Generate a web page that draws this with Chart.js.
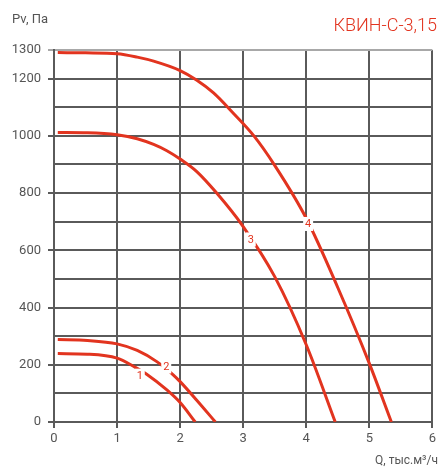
<!DOCTYPE html>
<html><head><meta charset="utf-8">
<script src="https://cdn.jsdelivr.net/npm/chart.js@4"></script>
<style>html,body{margin:0;padding:0;background:#fff}#wrap{width:439px;height:468px;position:relative}</style>
</head><body><div id="wrap"><canvas id="c" width="439" height="468"></canvas></div>
<script>
const chartTitle = 'КВИН-С-3,15';
const yTitle = 'Pv, Па';
const xTitle = 'Q, тыс.м³/ч';
const yLabelTicks = [0, 200, 400, 600, 800, 1000, 1200, 1300];
const curve1Q = [0.06, 0.53, 1.0, 1.29, 1.47, 1.79, 2.0, 2.24];
const curve1P = [239, 237, 223, 191, 167, 112, 68, 0];
const curve2Q = [0.06, 0.53, 1.0, 1.32, 1.63, 1.89, 2.0, 2.26, 2.56];
const curve2P = [288, 285, 273, 250, 211, 165, 141, 77, 0];
const curve3Q = [0.06, 0.53, 1.0, 1.32, 1.58, 1.79, 2.0, 2.26, 2.58, 3.0, 3.5, 4.0, 4.46];
const curve3P = [1012, 1011, 1004, 990, 970, 948, 919, 876, 800, 683, 508, 270, 0];
const curve4Q = [0.06, 0.5, 1.0, 1.32, 1.58, 2.0, 2.26, 2.53, 2.84, 3.17, 3.5, 4.0, 4.5, 5.0, 5.35];
const curve4P = [1291, 1290, 1287, 1275, 1261, 1228, 1195, 1150, 1080, 1000, 897, 712, 470, 205, 0];
const curveLabels = ['1', '2', '3', '4'];
const labelQ = [1.36, 1.78, 3.12, 4.03];
const labelP = [162, 194, 638, 692];

const RED = '#e2341f';
const GRID = '#5a5a5a';
const toPts = (q, p) => q.map((v, i) => ({x: v, y: p[i]}));
const ds = (q, p) => ({data: toPts(q, p), borderColor: RED, borderWidth: 3, pointRadius: 0,
  fill: false, cubicInterpolationMode: 'monotone', borderCapStyle: 'butt'});

const decor = {
  id: 'decor',
  afterDatasetsDraw(chart) {
    const ctx = chart.ctx, xs = chart.scales.x, ys = chart.scales.y;
    ctx.save();
    ctx.font = '11px Roboto';
    ctx.textAlign = 'center'; ctx.textBaseline = 'middle';
    curveLabels.forEach((t, i) => {
      const px = xs.getPixelForValue(labelQ[i]), py = ys.getPixelForValue(labelP[i]);
      ctx.fillStyle = '#fff';
      ctx.fillRect(px - 5, py - 7, 10, 14);
      ctx.fillStyle = RED;
      ctx.fillText(t, px, py + 0.5);
    });
    ctx.restore();
  },
  afterDraw(chart) {
    const ctx = chart.ctx;
    ctx.save();
    ctx.fillStyle = '#555';
    ctx.font = '13px Roboto';
    ctx.textAlign = 'left'; ctx.textBaseline = 'middle';
    ctx.fillText(yTitle, 12, 20);
    ctx.font = '12px Roboto';
    ctx.textAlign = 'right';
    ctx.fillText(xTitle, 438, 461);
    ctx.fillStyle = RED;
    ctx.font = '300 18px Roboto';
    ctx.fillText(chartTitle, 437, 26);
    ctx.restore();
  }
};

new Chart(document.getElementById('c'), {
  type: 'line',
  data: {datasets: [ds(curve1Q, curve1P), ds(curve2Q, curve2P), ds(curve3Q, curve3P), ds(curve4Q, curve4P)]},
  options: {
    responsive: false, animation: false, devicePixelRatio: 1,
    layout: {padding: {top: 50, right: 5, left: 0, bottom: 0}},
    plugins: {legend: {display: false}, tooltip: {enabled: false}},
    scales: {
      x: {type: 'linear', min: 0, max: 6,
        ticks: {stepSize: 1, color: '#555', font: {family: 'Roboto', size: 13}, padding: 3, maxRotation: 0},
        grid: {color: GRID, lineWidth: 2, tickLength: 6, tickColor: GRID},
        border: {color: GRID, width: 2},
        afterFit(s) { s.height = 46; }
      },
      y: {type: 'linear', min: 0, max: 1300,
        ticks: {stepSize: 100, color: '#555', font: {family: 'Roboto', size: 13}, padding: 7,
          autoSkip: false,
          callback: (v) => yLabelTicks.includes(v) ? String(v) : ''},
        grid: {lineWidth: 2, tickLength: 6,
          color: (c) => (c.tick && c.tick.value === 1300) ? '#a8a8a8' : GRID,
          tickColor: (c) => (c.tick && yLabelTicks.includes(c.tick.value)) ? ((c.tick.value === 1300) ? '#a8a8a8' : GRID) : 'rgba(0,0,0,0)'},
        border: {color: GRID, width: 2},
        afterFit(s) { s.width = 54; }
      }
    }
  },
  plugins: [decor]
});
</script></body></html>
